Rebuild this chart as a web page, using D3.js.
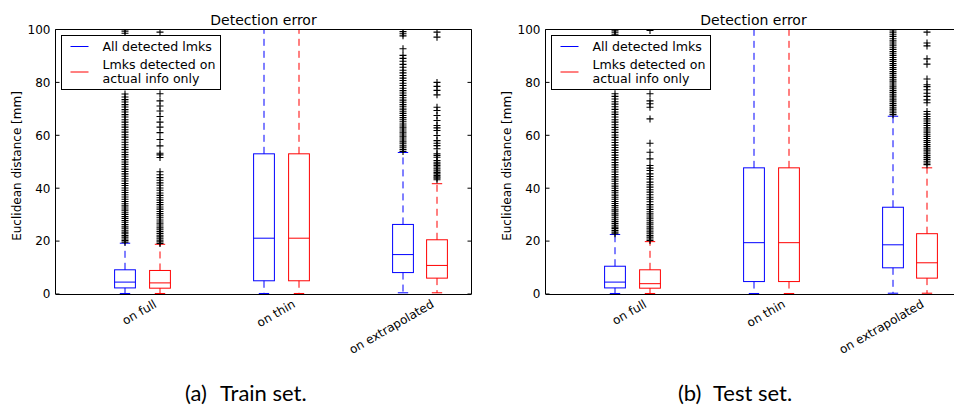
<!DOCTYPE html>
<html>
<head>
<meta charset="utf-8">
<script src="https://cdn.jsdelivr.net/npm/d3@7"></script>
<style>
  body { margin: 0; background: #fff; }
  svg text { font-family: "DejaVu Sans", sans-serif; }
</style>
</head>
<body>
<div id="chart"></div>
<script>
// ── Data ────────────────────────────────────────────────────
const groups = ["on full", "on thin", "on extrapolated"];
const seriesNames = ["All detected lmks", ["Lmks detected on", "actual info only"]];
const seriesColors = ["#0000ff", "#ff0000"];
const yTicks = [0, 20, 40, 60, 80, 100];
// box order: full blue, full red, thin blue, thin red, extrap blue, extrap red
const positions = [1, 2, 5, 6, 9, 10];
const tickPositions = [2, 6, 10];

const trainQ1     = [2.3, 2.2, 5.0, 5.0, 8.1, 6.0];
const trainMedian = [4.5, 4.2, 21.1, 21.1, 14.9, 10.8];
const trainQ3     = [9.15, 8.9, 53.0, 53.0, 26.3, 20.5];
const trainLo     = [0.2, 0.2, 0.2, 0.2, 0.45, 0.45];
const trainHi     = [19.2, 18.8, 130, 130, 53.5, 41.7];
const trainFliers = [
  [19.6, 20.2, 20.8, 21.5, 22.1, 22.8, 23.4, 24.1, 24.9, 25.6, 26.3, 27.1, 27.8, 28.6, 29.3, 30.1, 30.9, 31.7, 32.5, 33.3,
   34.1, 35.0, 35.8, 36.7, 37.5, 38.4, 39.2, 40.1, 41.0, 41.8, 42.7, 43.6, 44.5, 45.4, 46.3, 47.2, 48.1, 49.0, 49.9, 50.8,
   51.8, 52.7, 53.6, 54.6, 55.5, 56.4, 57.4, 58.3, 59.3, 60.2, 61.2, 62.1, 63.1, 64.0, 65.0, 65.9, 66.9, 67.8, 68.8, 69.7,
   70.7, 71.6, 72.6, 73.5, 74.5, 75.6, 98.6, 99.4],
  [19.1, 19.7, 20.3, 20.9, 21.6, 22.2, 22.9, 23.6, 24.3, 25.0, 25.7, 26.5, 27.2, 28.0, 28.8, 29.6, 30.4, 31.2, 32.1, 32.9,
   33.8, 34.6, 35.5, 36.4, 37.3, 38.2, 39.2, 40.1, 41.1, 42.0, 43.0, 44.0, 45.1, 46.2, 51.6, 52.6, 53.2, 56.0, 58.4, 61.0,
   63.1, 65.0, 67.1, 69.2, 71.1, 73.0, 75.7, 99.0],
  [],
  [],
  [53.9, 54.6, 55.3, 56.0, 56.8, 57.5, 58.2, 59.0, 59.7, 60.5, 61.2, 62.0, 62.8, 63.5, 64.3, 65.1, 65.9, 66.7, 67.5, 68.3,
   69.1, 69.9, 70.8, 71.6, 72.5, 73.3, 74.2, 75.1, 76.0, 76.9, 77.8, 78.8, 79.7, 80.7, 81.6, 82.6, 83.6, 84.6, 85.7, 86.8,
   88.0, 89.1, 90.2, 92.7, 97.6, 98.4, 99.2],
  [43.2, 43.8, 44.3, 44.8, 45.4, 46.0, 46.6, 47.3, 48.0, 48.6, 49.2, 49.8, 50.5, 51.7, 52.4, 53.0, 54.9, 56.1, 57.0, 58.0,
   59.9, 61.8, 62.8, 63.7, 65.6, 67.5, 69.4, 70.6, 75.3, 77.0, 78.5, 80.0, 97.1, 99.0]
];

const testQ1     = [2.3, 2.2, 4.7, 4.7, 9.9, 6.0];
const testMedian = [4.5, 3.9, 19.4, 19.4, 18.6, 11.8];
const testQ3     = [10.5, 9.15, 47.7, 47.7, 32.8, 22.8];
const testLo     = [0.2, 0.2, 0.2, 0.2, 0.3, 0.3];
const testHi     = [22.5, 19.8, 130, 130, 67.2, 47.7];
const testFliers = [
  [22.8, 23.4, 24.0, 24.7, 25.3, 26.0, 26.7, 27.4, 28.1, 28.8, 29.6, 30.3, 31.1, 31.8, 32.6, 33.4, 34.2, 35.0, 35.8, 36.6,
   37.4, 38.3, 39.1, 40.0, 40.8, 41.7, 42.6, 43.4, 44.3, 45.2, 46.1, 47.0, 47.9, 48.8, 49.7, 50.7, 51.6, 52.5, 53.5, 54.4,
   55.4, 56.3, 57.3, 58.2, 59.2, 60.1, 61.1, 62.1, 63.0, 64.0, 65.0, 65.9, 66.9, 67.9, 68.8, 69.8, 70.8, 71.8, 72.7, 73.7,
   74.7, 75.7, 98.2, 99.0, 99.7],
  [20.2, 20.8, 21.5, 22.1, 22.8, 23.5, 24.2, 24.9, 25.6, 26.4, 27.1, 27.9, 28.7, 29.5, 30.3, 31.1, 32.0, 32.9, 33.8, 34.9,
   35.8, 36.6, 37.5, 38.5, 39.4, 40.4, 41.3, 42.3, 43.5, 44.4, 45.4, 46.7, 47.6, 48.6, 51.1, 53.6, 57.0, 66.2, 70.6, 71.9,
   73.0, 75.7, 99.6],
  [],
  [],
  [67.8, 68.5, 69.2, 69.9, 70.6, 71.3, 72.0, 72.7, 73.4, 74.1, 74.8, 75.5, 76.2, 76.9, 77.6, 78.3, 79.0, 79.8, 80.5, 81.2,
   81.9, 82.7, 83.4, 84.1, 84.9, 85.6, 86.4, 87.1, 87.9, 88.6, 89.4, 90.2, 91.0, 91.7, 92.5, 93.3, 94.1, 94.9, 95.7, 96.5,
   97.4, 98.2, 99.0, 99.8],
  [48.9, 49.5, 50.2, 50.9, 51.6, 52.3, 53.0, 53.7, 54.4, 55.1, 55.8, 56.5, 57.3, 58.0, 58.8, 59.6, 60.4, 61.2, 62.0, 62.8,
   63.7, 64.5, 65.4, 66.2, 67.1, 68.0, 69.0, 72.3, 73.4, 74.7, 75.9, 77.2, 78.4, 79.1, 81.3, 86.9, 88.9, 93.8, 94.9, 99.0]
];

// ── Layout ──────────────────────────────────────────────────
const W = 954, H = 407;
const axTop = 29.5, axW = 416, axH = 264.5;

const svg = d3.select("#chart").append("svg")
  .attr("width", W).attr("height", H);

const x = d3.scaleLinear().domain([-1, 11]).range([0, axW]);
const y = d3.scaleLinear().domain([0, 100]).range([axH, 0]);

function drawPanel(id, left, q1, med, q3, lo, hi, fliers, tag, caption, capX) {
  const g = svg.append("g").attr("transform", `translate(${left},${axTop})`);

  svg.append("clipPath").attr("id", "clip-" + id)
    .append("rect").attr("width", axW).attr("height", axH);

  const plot = g.append("g").attr("clip-path", `url(#clip-${id})`);
  const bw = x(0.6) - x(0);     // box width
  const cw = bw / 2;            // cap width

  positions.forEach((p, i) => {
    const cx = Math.round(x(p)) + 0.5;
    const col = seriesColors[i % 2];

    // Whiskers (dashed)
    plot.append("line")
      .attr("x1", cx).attr("x2", cx)
      .attr("y1", y(q3[i])).attr("y2", y(hi[i]))
      .attr("stroke", col).attr("stroke-dasharray", "7,5");
    plot.append("line")
      .attr("x1", cx).attr("x2", cx)
      .attr("y1", y(q1[i])).attr("y2", y(lo[i]))
      .attr("stroke", col).attr("stroke-dasharray", "7,5");

    // Caps
    [lo[i], hi[i]].forEach(v => {
      plot.append("line")
        .attr("x1", cx - cw / 2).attr("x2", cx + cw / 2)
        .attr("y1", y(v)).attr("y2", y(v))
        .attr("stroke", col);
    });

    // Box
    plot.append("rect")
      .attr("x", cx - bw / 2).attr("y", y(q3[i]))
      .attr("width", bw).attr("height", y(q1[i]) - y(q3[i]))
      .attr("fill", "none").attr("stroke", col);

    // Median
    plot.append("line")
      .attr("x1", cx - bw / 2).attr("x2", cx + bw / 2)
      .attr("y1", y(med[i])).attr("y2", y(med[i]))
      .attr("stroke", col);

    // Fliers as '+'
    plot.selectAll(null).data(fliers[i]).enter().append("path")
      .attr("d", d => `M${cx - 3.5},${y(d)}h7M${cx},${y(d) - 3.5}v7`)
      .attr("stroke", "#000").attr("stroke-width", 1.1).attr("fill", "none");
  });

  // ── Frame ────────────────────────────────────────────────
  g.append("line").attr("x1", 0).attr("x2", axW).attr("y1", 0).attr("y2", 0)
    .attr("stroke", "#000");
  g.append("line").attr("x1", 0).attr("x2", axW).attr("y1", axH + 0.5).attr("y2", axH + 0.5)
    .attr("stroke", "#000");
  g.append("line").attr("x1", 0).attr("x2", 0).attr("y1", 0).attr("y2", axH)
    .attr("stroke", "#000");
  g.append("line").attr("x1", axW).attr("x2", axW).attr("y1", 0).attr("y2", axH)
    .attr("stroke", "#000");

  // ── Y ticks (inward, both sides) ─────────────────────────
  yTicks.forEach(t => {
    g.append("line").attr("x1", 0).attr("x2", 4).attr("y1", y(t)).attr("y2", y(t))
      .attr("stroke", "#000");
    g.append("line").attr("x1", axW - 4).attr("x2", axW).attr("y1", y(t)).attr("y2", y(t))
      .attr("stroke", "#000");
    g.append("text")
      .attr("x", -5).attr("y", y(t)).attr("dy", "0.36em")
      .attr("text-anchor", "end").attr("font-size", 12)
      .text(t);
  });

  // ── X tick labels (rotated) ──────────────────────────────
  groups.forEach((name, k) => {
    const tx = x(tickPositions[k]) - 2;
    const ty = axH + 12.5;
    g.append("text")
      .attr("transform", `translate(${tx},${ty}) rotate(-30)`)
      .attr("text-anchor", "end").attr("font-size", 12)
      .text(name);
  });

  // ── Y axis label ─────────────────────────────────────────
  g.append("text")
    .attr("transform", `translate(-34.5,136.5) rotate(-90)`)
    .attr("text-anchor", "middle").attr("font-size", 12)
    .text("Euclidean distance [mm]");

  // ── Title ────────────────────────────────────────────────
  g.append("text")
    .attr("x", axW / 2).attr("y", -4.5)
    .attr("text-anchor", "middle").attr("font-size", 14)
    .text("Detection error");

  // ── Legend ───────────────────────────────────────────────
  const lg = g.append("g").attr("transform", "translate(6,6)");
  lg.append("rect")
    .attr("width", 159).attr("height", 54)
    .attr("fill", "#fff").attr("stroke", "#000");
  [11, 36.5].forEach((ly, s) => {
    lg.append("line")
      .attr("x1", 9).attr("x2", 27).attr("y1", ly).attr("y2", ly)
      .attr("stroke", seriesColors[s]);
  });
  lg.append("text").attr("x", 41).attr("y", 15).attr("font-size", 12.6)
    .text(seriesNames[0]);
  seriesNames[1].forEach((line, j) => {
    lg.append("text").attr("x", 41).attr("y", 33 + j * 14).attr("font-size", 12.6)
      .text(line);
  });

  // ── Sub-caption ──────────────────────────────────────────
  svg.append("text")
    .attr("x", capX).attr("y", 401)
    .style("font-family", "Lato, sans-serif").attr("font-size", 22)
    .text(tag);
  svg.append("text")
    .attr("x", capX + 35).attr("y", 401)
    .style("font-family", "Lato, sans-serif").attr("font-size", 22)
    .text(caption);
}

drawPanel("a", 55.5, trainQ1, trainMedian, trainQ3, trainLo, trainHi, trainFliers, "(a)", "Train set.", 185);
drawPanel("b", 545.5, testQ1, testMedian, testQ3, testLo, testHi, testFliers, "(b)", "Test set.", 678);
</script>
</body>
</html>
